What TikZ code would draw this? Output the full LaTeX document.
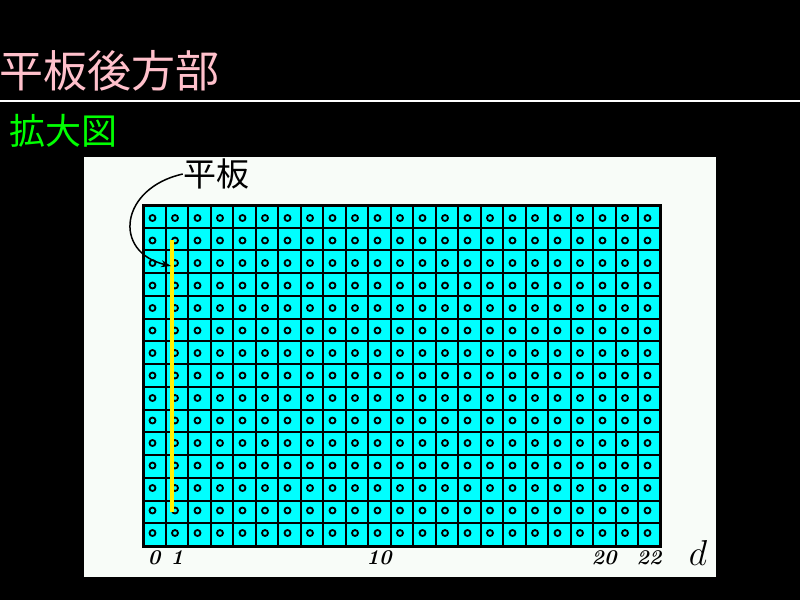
\documentclass[tikz,border=0pt]{standalone}
\usepackage{fix-cm}
\usepackage{fontspec}
\newfontfamily\cjk{Noto Sans CJK JP}
\usetikzlibrary{arrows.meta}
\definecolor{panel}{RGB}{248,252,248}
\definecolor{pinkt}{RGB}{255,192,203}
\definecolor{gridcyan}{RGB}{0,255,255}
\tikzset{
  gridline/.style={black, line width=2pt},
  dot/.style={black, line width=1.8pt},
  axislabel/.style={font=\bfseries\itshape\fontsize{21}{21}\selectfont, inner sep=0pt}
}
\begin{document}
\begin{tikzpicture}[x=1pt,y=-1pt]
\useasboundingbox (0,0) rectangle (800,600);
\fill[black] (0,0) rectangle (800,600);
\node[anchor=west, text=pinkt, font=\cjk\fontsize{44}{44}\selectfont, inner sep=0pt] (title) at (-1,71) {平板後方部};
\draw[white, line width=2.5pt] (0,101) -- (800,101);
\node[anchor=west, text=green, font=\cjk\fontsize{36}{36}\selectfont, inner sep=0pt] (sub) at (9,131) {拡大図};
\fill[panel] (84,157) rectangle (716,577);
\fill[gridcyan] (143,205) rectangle (660.5,546);
\foreach \i in {1,...,22} \draw[gridline] ({143+22.5*\i},205) -- ++(0,341);
\foreach \j in {1,...,14} \draw[gridline] (143,{205+22.733*\j}) -- (660.5,{205+22.733*\j});
\foreach \i in {0,...,22} \foreach \j in {0,...,14} \draw[dot] ({152.5+22.5*\i},{218+22.5*\j}) circle (3);
\draw[black, line width=3pt] (143,205) rectangle (660.5,546);
\draw[yellow, line width=3.5pt] (172,240) -- (172,512);
\node[axislabel] (l0) at (154,558) {0};
\node[axislabel] (l1) at (177,558) {1};
\node[axislabel] (l10) at (379,558) {10};
\node[axislabel] (l20) at (604,558) {20};
\node[axislabel] (l22) at (649,558) {22};
\node[font=\fontsize{36}{36}\selectfont, inner sep=0pt] (d) at (698,553) {$d$};
\node[font=\cjk\fontsize{33}{33}\selectfont, inner sep=0pt] (plate) at (216,174) {平板};
\coordinate (tip) at (171,266);
\draw[-{Stealth[length=10pt,width=7pt]}, line width=1.5pt] (plate.west) .. controls (120,188) and (112,252) .. (tip);
\end{tikzpicture}
\end{document}
